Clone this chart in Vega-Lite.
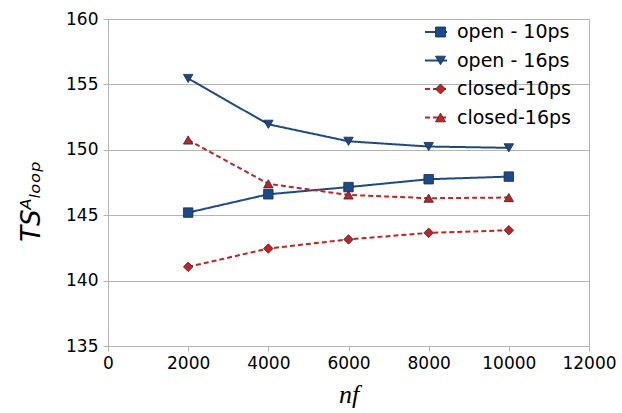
{
  "$schema": "https://vega.github.io/schema/vega-lite/v6.json",
  "width": 481,
  "height": 327,
  "autosize": {"type": "none"},
  "padding": {"left": 108, "top": 19, "right": 33, "bottom": 67},
  "background": "white",
  "config": {
    "view": {"stroke": "#b3b3b3", "strokeWidth": 1},
    "font": "DejaVu Sans"
  },
  "resolve": {"legend": {"color": "independent", "fill": "independent", "shape": "independent", "strokeDash": "independent"}, "scale": {"color": "independent", "fill": "independent", "shape": "independent", "strokeDash": "independent"}},
  "data": {
    "values": [
      {"nf": 2000, "ts": 145.2, "series": "open - 10ps"},
      {"nf": 4000, "ts": 146.6, "series": "open - 10ps"},
      {"nf": 6000, "ts": 147.15, "series": "open - 10ps"},
      {"nf": 8000, "ts": 147.75, "series": "open - 10ps"},
      {"nf": 10000, "ts": 147.95, "series": "open - 10ps"},
      {"nf": 2000, "ts": 155.45, "series": "open - 16ps"},
      {"nf": 4000, "ts": 151.95, "series": "open - 16ps"},
      {"nf": 6000, "ts": 150.65, "series": "open - 16ps"},
      {"nf": 8000, "ts": 150.25, "series": "open - 16ps"},
      {"nf": 10000, "ts": 150.15, "series": "open - 16ps"},
      {"nf": 2000, "ts": 141.05, "series": "closed-10ps"},
      {"nf": 4000, "ts": 142.45, "series": "closed-10ps"},
      {"nf": 6000, "ts": 143.15, "series": "closed-10ps"},
      {"nf": 8000, "ts": 143.65, "series": "closed-10ps"},
      {"nf": 10000, "ts": 143.85, "series": "closed-10ps"},
      {"nf": 2000, "ts": 150.75, "series": "closed-16ps"},
      {"nf": 4000, "ts": 147.4, "series": "closed-16ps"},
      {"nf": 6000, "ts": 146.55, "series": "closed-16ps"},
      {"nf": 8000, "ts": 146.3, "series": "closed-16ps"},
      {"nf": 10000, "ts": 146.35, "series": "closed-16ps"}
    ]
  },
  "encoding": {
    "x": {
      "field": "nf", "type": "quantitative",
      "scale": {"domain": [0, 12000], "nice": false, "zero": false},
      "axis": {
        "values": [0, 2000, 4000, 6000, 8000, 10000, 12000],
        "format": "d",
        "title": "nf",
        "titleFont": "Liberation Serif",
        "titleFontStyle": "italic",
        "titleFontWeight": "normal",
        "titleFontSize": 26,
        "titleColor": "#000",
        "titlePadding": 10,
        "labelFont": "DejaVu Sans",
        "labelFontSize": 17,
        "labelColor": "#000",
        "labelPadding": 4,
        "labelFlush": false,
        "tickSize": 5,
        "tickColor": "#b3b3b3",
        "domainColor": "#b3b3b3",
        "grid": false
      }
    },
    "y": {
      "field": "ts", "type": "quantitative",
      "scale": {"domain": [135, 160], "nice": false, "zero": false},
      "axis": {
        "values": [135, 140, 145, 150, 155, 160],
        "title": "TSᴬₗₒₒₚ",
        "titleFont": "DejaVu Sans",
        "titleFontStyle": "italic",
        "titleFontWeight": "normal",
        "titleFontSize": 26,
        "titleColor": "#000",
        "titlePadding": 21,
        "titleY": 182,
        "labelFont": "DejaVu Sans",
        "labelFontSize": 17,
        "labelColor": "#000",
        "labelPadding": 5,
        "tickSize": 5,
        "tickColor": "#b3b3b3",
        "domainColor": "#b3b3b3",
        "grid": true,
        "gridColor": "#b3b3b3",
        "gridWidth": 1
      }
    }
  },
  "layer": [
    {
      "mark": {"type": "line", "strokeWidth": 2},
      "encoding": {
        "color": {
          "field": "series", "type": "nominal",
          "scale": {"domain": ["open - 10ps", "open - 16ps", "closed-10ps", "closed-16ps"], "range": ["#1b4a8a", "#1b4a8a", "#c9211e", "#c9211e"]},
          "legend": {
            "orient": "none", "legendX": 316, "legendY": 3,
            "title": null, "padding": 0,
            "symbolType": "stroke", "symbolSize": 484, "symbolStrokeWidth": 2,
            "clipHeight": 20,
            "labelFont": "DejaVu Sans",
            "labelFontSize": 19, "labelOffset": 5, "labelExpr": "''",
            "rowPadding": 8.5
          }
        },
        "strokeDash": {
          "field": "series", "type": "nominal",
          "scale": {"domain": ["open - 10ps", "open - 16ps", "closed-10ps", "closed-16ps"], "range": [[1, 0], [1, 0], [5, 3], [5, 3]]}
        }
      }
    },
    {
      "mark": {"type": "point", "filled": true, "opacity": 1, "stroke": "#1c2a44", "strokeWidth": 0.8},
      "encoding": {
        "fill": {
          "field": "series", "type": "nominal",
          "scale": {"domain": ["open - 10ps", "open - 16ps", "closed-10ps", "closed-16ps"], "range": ["#1b4a8a", "#1b4a8a", "#c9211e", "#c9211e"]},
          "legend": {
            "orient": "none", "legendX": 323, "legendY": 3,
            "title": null, "padding": 0,
            "symbolSize": 100, "symbolStrokeColor": "#1c2a44", "symbolStrokeWidth": 0.8,
            "clipHeight": 20,
            "labelFont": "DejaVu Sans",
            "labelFontSize": 19, "labelOffset": 7, "labelColor": "#000",
            "rowPadding": 8.5
          }
        },
        "shape": {
          "field": "series", "type": "nominal",
          "scale": {"domain": ["open - 10ps", "open - 16ps", "closed-10ps", "closed-16ps"], "range": ["square", "triangle-down", "diamond", "triangle-up"]}
        },
        "size": {"value": 90}
      }
    }
  ]
}
